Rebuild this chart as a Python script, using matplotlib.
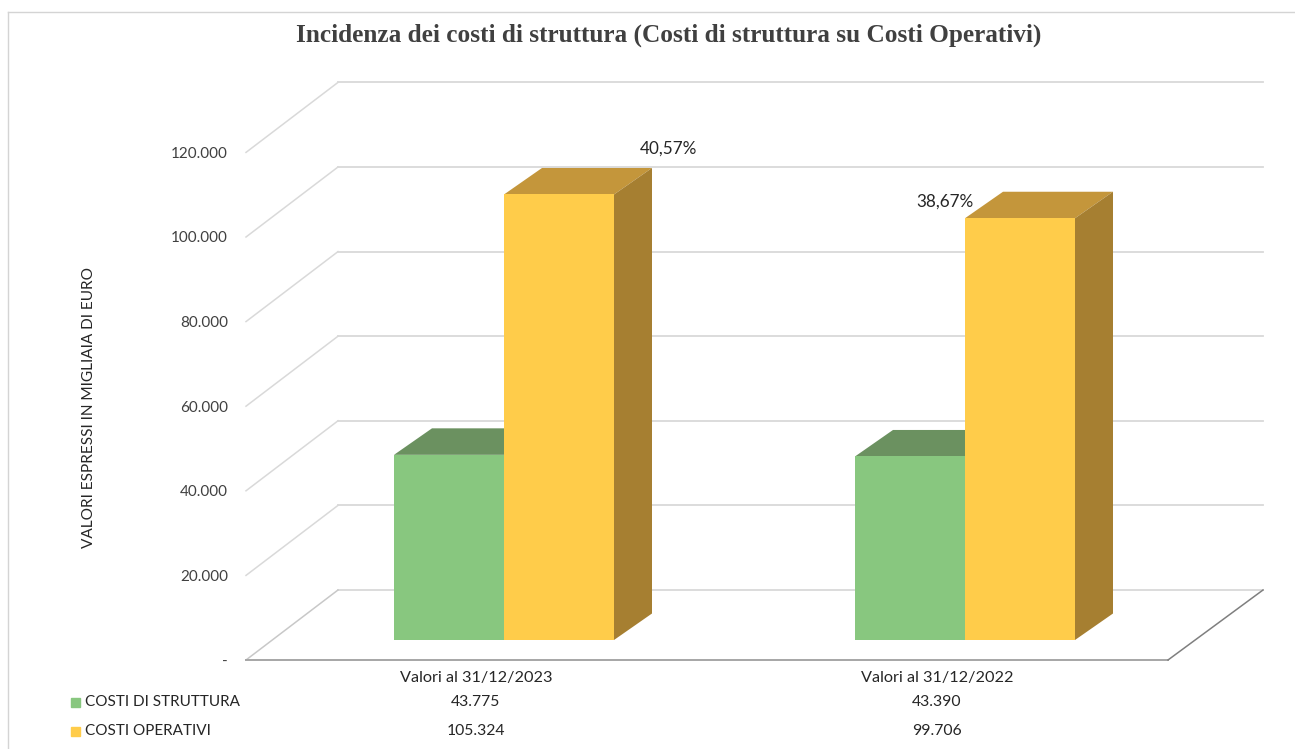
"""Incidenza dei costi di struttura: oblique 3D column chart with a data table."""

import matplotlib

matplotlib.use("Agg")

import matplotlib.pyplot as plt
from matplotlib.lines import Line2D

TITLE = "Incidenza dei costi di struttura (Costi di struttura su Costi Operativi)"
Y_LABEL = "VALORI ESPRESSI IN MIGLIAIA DI EURO"
CATEGORIES = ["Valori al 31/12/2023", "Valori al 31/12/2022"]
STRUTTURA = [43775, 43390]
OPERATIVI = [105324, 99706]
STRUTTURA_TEXT = ["43.775", "43.390"]
OPERATIVI_TEXT = ["105.324", "99.706"]
PERCENT_TEXT = ["40,57%", "38,67%"]
Y_TICKS = [0, 20000, 40000, 60000, 80000, 100000, 120000]
Y_TICK_LABELS = ["-", "20.000", "40.000", "60.000", "80.000", "100.000", "120.000"]
SERIES_NAMES = ["COSTI DI STRUTTURA", "COSTI OPERATIVI"]

W, H = 1295, 749
# pixel geometry of the value axis and of the oblique projection
PX_PER_VALUE = 0.00423
PX_PER_CAT = 461
LEFT, RIGHT, BOTTOM, TOP = 246, 1263, 660, 83
CAT0_PX = 504

DEPTH_X = 92 / PX_PER_CAT
DEPTH_Y = 70 / PX_PER_VALUE
BAR_W = 110 / PX_PER_CAT
BAR_BASE = 20 / PX_PER_VALUE
BAR_DX = 38 / PX_PER_CAT
BAR_DY = 26.5 / PX_PER_VALUE
LABEL_SHIFT = -28 / PX_PER_CAT

GREEN = ("#88C77F", "#6B9160", "#5F8155")
YELLOW = ("#FFCC4A", "#C4963B", "#A67F31")
TEXT = "#262626"
GRID = "#D9D9D9"

plt.rcParams["font.family"] = ["Lato", "DejaVu Sans"]


def draw_bar(ax, left, value, colors):
    right = left + BAR_W
    top = BAR_BASE + value
    ax.fill([left, right, right + BAR_DX, left + BAR_DX],
            [top, top, top + BAR_DY, top + BAR_DY], color=colors[1], lw=0, zorder=3, clip_on=False)
    ax.fill([right, right + BAR_DX, right + BAR_DX, right],
            [BAR_BASE, BAR_BASE + BAR_DY, top + BAR_DY, top], color=colors[2], lw=0, zorder=3, clip_on=False)
    ax.fill([left, right, right, left],
            [BAR_BASE, BAR_BASE, top, top], color=colors[0], lw=0, zorder=3, clip_on=False)


def main():
    fig = plt.figure(figsize=(W / 100, H / 100), dpi=100, facecolor="white")
    ax = fig.add_axes([LEFT / W, 1 - BOTTOM / H, (RIGHT - LEFT) / W, (BOTTOM - TOP) / H])
    ax.set_xlim((LEFT - CAT0_PX) / PX_PER_CAT, (RIGHT - CAT0_PX) / PX_PER_CAT)
    ax.set_ylim(0, (BOTTOM - TOP) / PX_PER_VALUE)
    ax.patch.set_alpha(0)
    for spine in ax.spines.values():
        spine.set_visible(False)

    x0, x1 = ax.get_xlim()
    front_right = x1 - 95 / PX_PER_CAT

    # back wall and side wall gridlines
    for value in Y_TICKS:
        ax.plot([x0 + DEPTH_X, x1], [value + DEPTH_Y] * 2, color=GRID, lw=1.3, zorder=1, clip_on=False)
        if value:
            ax.plot([x0, x0 + DEPTH_X], [value, value + DEPTH_Y], color=GRID, lw=1.1, zorder=1, clip_on=False)
    # floor
    ax.plot([x0, x0 + DEPTH_X], [0, DEPTH_Y], color="#C8C8C8", lw=1.1, zorder=1, clip_on=False)
    ax.plot([x0, front_right], [0, 0], color="#A6A6A6", lw=1.4, zorder=2, clip_on=False)
    ax.plot([front_right, x1], [0, DEPTH_Y], color="#7F7F7F", lw=1.1, zorder=2, clip_on=False)

    for i in range(len(CATEGORIES)):
        draw_bar(ax, i - BAR_W, STRUTTURA[i], GREEN)
        draw_bar(ax, i, OPERATIVI[i], YELLOW)

    ax.set_yticks(Y_TICKS, Y_TICK_LABELS)
    ax.set_xticks([i + LABEL_SHIFT for i in range(len(CATEGORIES))], CATEGORIES)
    ax.tick_params(axis="y", length=0, pad=13, labelsize=11, labelcolor="#404040")
    ax.tick_params(axis="x", length=0, pad=8, labelsize=11.7, labelcolor=TEXT)

    # percentage labels, placed relative to each yellow column
    ax.text(0 + 164 / PX_PER_CAT, OPERATIVI[0] + 15500, PERCENT_TEXT[0], ha="center", va="center",
            fontsize=12.3, color=TEXT)
    ax.text(1 - 20 / PX_PER_CAT, OPERATIVI[1] + 8600, PERCENT_TEXT[1], ha="center", va="center",
            fontsize=12.3, color=TEXT)

    # data table under the chart
    trans = ax.get_xaxis_transform()
    row_y = [-42 / (BOTTOM - TOP), -71 / (BOTTOM - TOP)]
    for i in range(len(CATEGORIES)):
        x = i + LABEL_SHIFT
        ax.text(x, row_y[0], STRUTTURA_TEXT[i], transform=trans, ha="center", va="center",
                fontsize=11.3, color=TEXT)
        ax.text(x, row_y[1], OPERATIVI_TEXT[i], transform=trans, ha="center", va="center",
                fontsize=11.3, color=TEXT)

    for name, color, y in zip(SERIES_NAMES, (GREEN[0], YELLOW[0]), (702, 731)):
        fig.patches.append(plt.Rectangle((71 / W, 1 - (y + 5) / H), 9 / W, 9 / H, color=color,
                                         transform=fig.transFigure, figure=fig))
        fig.text(85 / W, 1 - y / H, name, ha="left", va="center", fontsize=11, color=TEXT)

    fig.text(669 / W, 1 - 35 / H, TITLE, ha="center", va="center", fontsize=18.2, fontweight="bold",
             family=["Liberation Serif"], color="#404040")
    fig.text(89 / W, 1 - 407 / H, Y_LABEL, ha="center", va="center", rotation=90, fontsize=11.1,
             color=TEXT)

    # frame of the screenshot
    fig.add_artist(Line2D([8 / W, 1], [1 - 12 / H] * 2, color="#D4D4D4", lw=1))
    fig.add_artist(Line2D([8 / W, 8 / W], [0, 1 - 12 / H], color="#D4D4D4", lw=1))

    fig.savefig("out.png", dpi=100)


if __name__ == "__main__":
    main()
